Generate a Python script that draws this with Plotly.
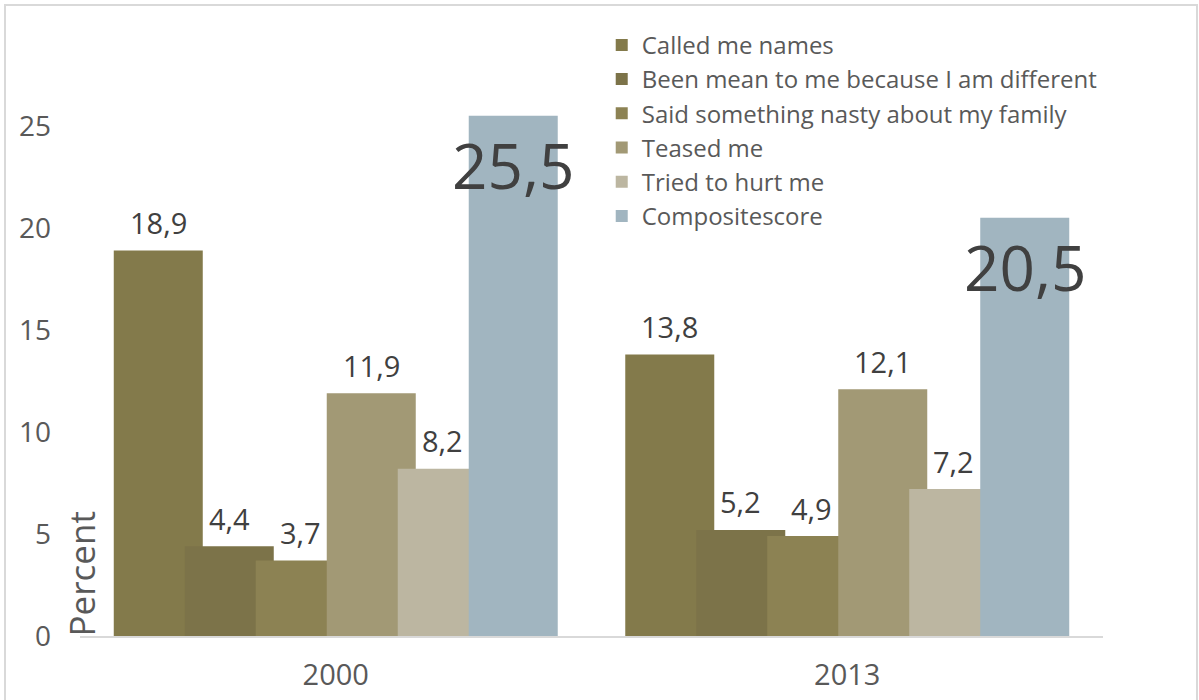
import plotly.graph_objects as go

years = ["2000", "2013"]
series_names = [
    "Called me names",
    "Been mean to me because I am different",
    "Said something nasty about my family",
    "Teased me",
    "Tried to hurt me",
    "Compositescore",
]
called_names = [18.9, 13.8]
mean_different = [4.4, 5.2]
nasty_family = [3.7, 4.9]
teased = [11.9, 12.1]
tried_hurt = [8.2, 7.2]
composite = [25.5, 20.5]

series_values = [called_names, mean_different, nasty_family, teased, tried_hurt, composite]
colors = ["#837A4B", "#7C7349", "#8C8253", "#A29975", "#BCB6A1", "#A1B5C0"]

FONT = "Open Sans"
bar_w = 0.174
step = 0.1388
start = -0.434

x_idx = list(range(len(years)))

fig = go.Figure()
annotations = []
for i, (name, vals, col) in enumerate(zip(series_names, series_values, colors)):
    off = start + i * step
    fig.add_trace(go.Bar(
        x=x_idx, y=vals, name=name,
        marker=dict(color=col, line=dict(width=0)),
        width=bar_w, offset=off,
    ))
    for xi, v in zip(x_idx, vals):
        txt = f"{v:.1f}".replace(".", ",")
        xc = xi + off + bar_w / 2
        if i == len(series_names) - 1:
            annotations.append(dict(
                x=xc, y=v, xref="x", yref="y", text=txt, showarrow=False,
                yanchor="middle", xanchor="center", yshift=-49,
                font=dict(family=FONT, size=62, color="#404040"),
            ))
        else:
            annotations.append(dict(
                x=xc, y=v, xref="x", yref="y", text=txt, showarrow=False,
                yanchor="middle", xanchor="center", yshift=28,
                font=dict(family=FONT, size=29, color="#404040"),
            ))

annotations.append(dict(
    x=0.0015, y=-0.004, xref="paper", yref="paper", text="Percent",
    textangle=-90, showarrow=False, xanchor="center", yanchor="bottom",
    font=dict(family=FONT, size=35, color="#595959"),
))

fig.update_layout(
    width=1199, height=700,
    margin=dict(l=80, r=96, t=24, b=64, autoexpand=False),
    paper_bgcolor="white", plot_bgcolor="white",
    barmode="overlay",
    font=dict(family=FONT, color="#595959"),
    showlegend=True,
    legend=dict(
        x=0.51, y=1.002, xanchor="left", yanchor="top",
        font=dict(family=FONT, size=24, color="#595959"),
        bgcolor="rgba(0,0,0,0)", traceorder="normal",
    ),
    xaxis=dict(
        range=[-0.5, 1.5], tickvals=x_idx, ticktext=years,
        showgrid=False, zeroline=False, showline=True,
        linecolor="#D9D9D9", linewidth=2, ticks="",
        tickfont=dict(family=FONT, size=29, color="#595959"),
        ticklabelstandoff=12, automargin=False,
    ),
    yaxis=dict(
        range=[0, 30], tickvals=[0, 5, 10, 15, 20, 25],
        showgrid=False, zeroline=False, showline=False, ticks="",
        tickfont=dict(family=FONT, size=28, color="#595959"),
        ticklabelstandoff=28, automargin=False,
    ),
    annotations=annotations,
    shapes=[dict(
        type="rect", xref="paper", yref="paper",
        x0=-0.0733, x1=1.0919, y0=-0.11, y1=1.031,
        line=dict(color="#D9D9D9", width=2), fillcolor="rgba(0,0,0,0)",
        layer="below",
    )],
)

fig.write_html(
    "out.html",
    config={"displayModeBar": False},
    post_script="document.body.style.margin='0';",
)
